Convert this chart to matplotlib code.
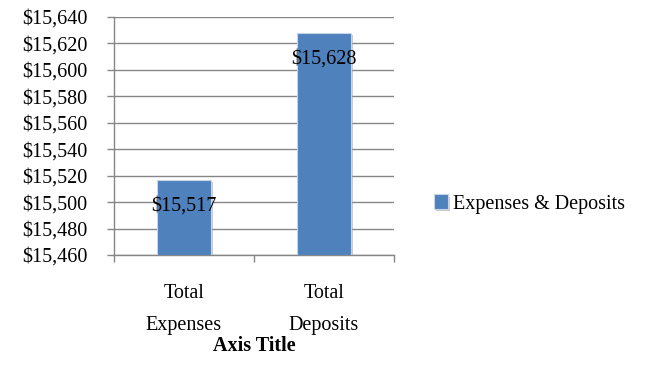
import matplotlib
matplotlib.use("Agg")
import matplotlib.pyplot as plt
from matplotlib.ticker import FuncFormatter, FixedLocator
import matplotlib.patheffects as pe

categories = ["Total\nExpenses", "Total\nDeposits"]
values = [15517, 15628]
series_name = "Expenses & Deposits"
y_ticks = [15460, 15480, 15500, 15520, 15540, 15560, 15580, 15600, 15620, 15640]
axis_title = "Axis Title"

plt.rcParams['font.family'] = ['Liberation Serif', 'DejaVu Serif']
FS = 14.5
bar_color = "#4F81BD"
grid_color = "#868686"

fig = plt.figure(figsize=(6.57, 3.85), dpi=100)
ax = fig.add_axes([114/657, 1-255/385, 280/657, 238/385])

x = list(range(len(categories)))
bars = ax.bar(x, [v - y_ticks[0] for v in values], bottom=y_ticks[0], width=0.386,
              color=bar_color, edgecolor="#C8D4E4", linewidth=0.8, zorder=3,
              label=series_name)
for b in bars:
    b.set_path_effects([pe.SimplePatchShadow(offset=(1.5, -1.5), shadow_rgbFace="#999999", alpha=0.5), pe.Normal()])

for xi, v in zip(x, values):
    ax.annotate(f"${v:,}", xy=(xi, v), xytext=(0, -19), textcoords="offset points",
                ha="center", va="center", fontsize=FS, color="black", zorder=5)

ax.set_xlim(-0.5, 1.5)
ax.set_ylim(y_ticks[0], y_ticks[-1])
ax.set_yticks(y_ticks)
ax.yaxis.set_major_formatter(FuncFormatter(lambda v, p: f"${int(v):,}"))
ax.yaxis.grid(True, color=grid_color, linewidth=1.0, zorder=0)
ax.set_axisbelow(True)

ax.set_xticks(x)
ax.set_xticklabels(categories, fontsize=FS, linespacing=1.92)
ax.xaxis.set_minor_locator(FixedLocator([-0.5, 0.5, 1.5]))
ax.tick_params(axis="x", which="major", length=0, pad=21)
ax.tick_params(axis="x", which="minor", length=5, color=grid_color, width=1)
ax.tick_params(axis="y", which="major", length=5, color=grid_color, width=1, pad=14, labelsize=FS)

for s in ["top", "right"]:
    ax.spines[s].set_visible(False)
for s in ["left", "bottom"]:
    ax.spines[s].set_color(grid_color)
    ax.spines[s].set_linewidth(1)

fig.text(254/657, 1-346/385, axis_title, ha="center", va="center", fontsize=FS, fontweight="bold")

leg = ax.legend(loc="center left", bbox_to_anchor=(434/657, 1-204/385), bbox_transform=fig.transFigure,
                frameon=False, fontsize=FS, handlelength=0.7, handleheight=0.7,
                handletextpad=0.25, borderpad=0, borderaxespad=0)

fig.savefig("out.png", dpi=100)
